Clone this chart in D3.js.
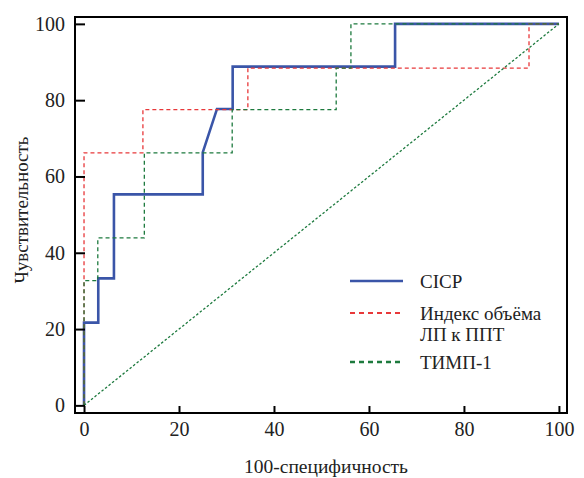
<!DOCTYPE html>
<html>
<head>
<meta charset="utf-8">
<script src="https://cdn.jsdelivr.net/npm/d3@7"></script>
<style>
  body { margin: 0; background: #fff; }
  svg text { font-family: "Liberation Serif", Tinos, "Times New Roman", "DejaVu Serif", serif !important; fill: #222; }
</style>
</head>
<body>
<div id="MyChart"></div>
<script>
// ROC curves: x = 100-specificity, y = sensitivity
var cicpX = [0, 0, 3, 3, 6.3, 6.3, 25, 25, 28, 31.3, 31.3, 65.5, 65.5, 100];
var cicpY = [0, 21.7, 21.7, 33.3, 33.3, 55.3, 55.3, 66.3, 77.7, 77.7, 88.8, 88.8, 100, 100];

var indexX = [0, 0, 12.4, 12.4, 34.5, 34.5, 93.7, 93.7, 100];
var indexY = [0, 66.2, 66.2, 77.5, 77.5, 88.4, 88.4, 100, 100];

var timpX = [0, 0, 2.9, 2.9, 12.7, 12.7, 31.2, 31.2, 53.1, 53.1, 56.2, 56.2, 100];
var timpY = [0, 32.7, 32.7, 43.9, 43.9, 66.2, 66.2, 77.5, 77.5, 88.4, 88.4, 100, 100];

var refX = [0, 100];
var refY = [0, 100];

var xTicks = [0, 20, 40, 60, 80, 100];
var yTicks = [0, 20, 40, 60, 80, 100];

var seriesNames = ["CICP", "Индекс объёма|ЛП к ППТ", "ТИМП-1"];

var width = 584, height = 478;

var xScale = d3.scaleLinear().domain([-1.9, 101.7]).range([75, 567]);
var yScale = d3.scaleLinear().domain([-2, 101.8]).range([413, 17]);

var svg = d3.select("#MyChart").append("svg")
    .attr("width", width)
    .attr("height", height);

var line = d3.line()
    .x(function(d) { return xScale(d[0]); })
    .y(function(d) { return yScale(d[1]); });

function pts(xs, ys) { return xs.map(function(x, i) { return [x, ys[i]]; }); }

// curves
svg.append("path")
    .datum(pts(cicpX, cicpY))
    .attr("d", line)
    .style("fill", "none")
    .style("stroke", "#3a55a8")
    .style("stroke-width", 2.6);

svg.append("path")
    .datum(pts(indexX, indexY))
    .attr("d", line)
    .style("fill", "none")
    .style("stroke", "#e8383a")
    .style("stroke-width", 1.3)
    .style("stroke-dasharray", "4,3");

svg.append("path")
    .datum(pts(timpX, timpY))
    .attr("d", line)
    .style("fill", "none")
    .style("stroke", "#1d7a3e")
    .style("stroke-width", 1.3)
    .style("stroke-dasharray", "4,3");

svg.append("path")
    .datum(pts(refX, refY))
    .attr("d", line)
    .style("fill", "none")
    .style("stroke", "#1d7a3e")
    .style("stroke-width", 1.3)
    .style("stroke-dasharray", "2.5,2");

// axes
var xAxis = svg.append("g")
    .attr("transform", "translate(0,413)")
    .call(d3.axisBottom(xScale).tickValues(xTicks).tickSizeInner(-7).tickSizeOuter(0).tickPadding(9));

var yAxis = svg.append("g")
    .attr("transform", "translate(75,0)")
    .call(d3.axisLeft(yScale).tickValues(yTicks).tickSizeInner(-10).tickSizeOuter(0).tickPadding(10));

[xAxis, yAxis].forEach(function(a) {
  a.attr("font-family", null);
  a.select(".domain").remove();
  a.selectAll("line").style("stroke", "#000").style("stroke-width", 2);
  a.selectAll("text").style("font-size", "20px");
});

// frame
svg.append("rect")
    .attr("x", 75).attr("y", 17)
    .attr("width", 492).attr("height", 396)
    .style("fill", "none")
    .style("stroke", "#000")
    .style("stroke-width", 2);

// axis titles
svg.append("text")
    .attr("x", 326).attr("y", 473)
    .attr("text-anchor", "middle")
    .style("font-size", "19.5px")
    .text("100-специфичность");

svg.append("text")
    .attr("transform", "translate(28,210) rotate(-90)")
    .attr("text-anchor", "middle")
    .style("font-size", "19px")
    .text("Чувствительность");

// legend
var legendY = [281, 313, 362];
var legendStyle = [
  {stroke: "#3a55a8", w: 2.6, dash: null},
  {stroke: "#e8383a", w: 2, dash: "5,4"},
  {stroke: "#1d7a3e", w: 2.4, dash: "5,4"}
];
var legend = svg.append("g");
seriesNames.forEach(function(name, i) {
  legend.append("line")
      .attr("x1", 350).attr("x2", 403)
      .attr("y1", legendY[i]).attr("y2", legendY[i])
      .style("stroke", legendStyle[i].stroke)
      .style("stroke-width", legendStyle[i].w)
      .style("stroke-dasharray", legendStyle[i].dash);
  name.split("|").forEach(function(part, j) {
    legend.append("text")
        .attr("x", 420)
        .attr("y", legendY[i] + 7 + j * 21)
        .style("font-size", "19px")
        .text(part);
  });
});
</script>
</body>
</html>
